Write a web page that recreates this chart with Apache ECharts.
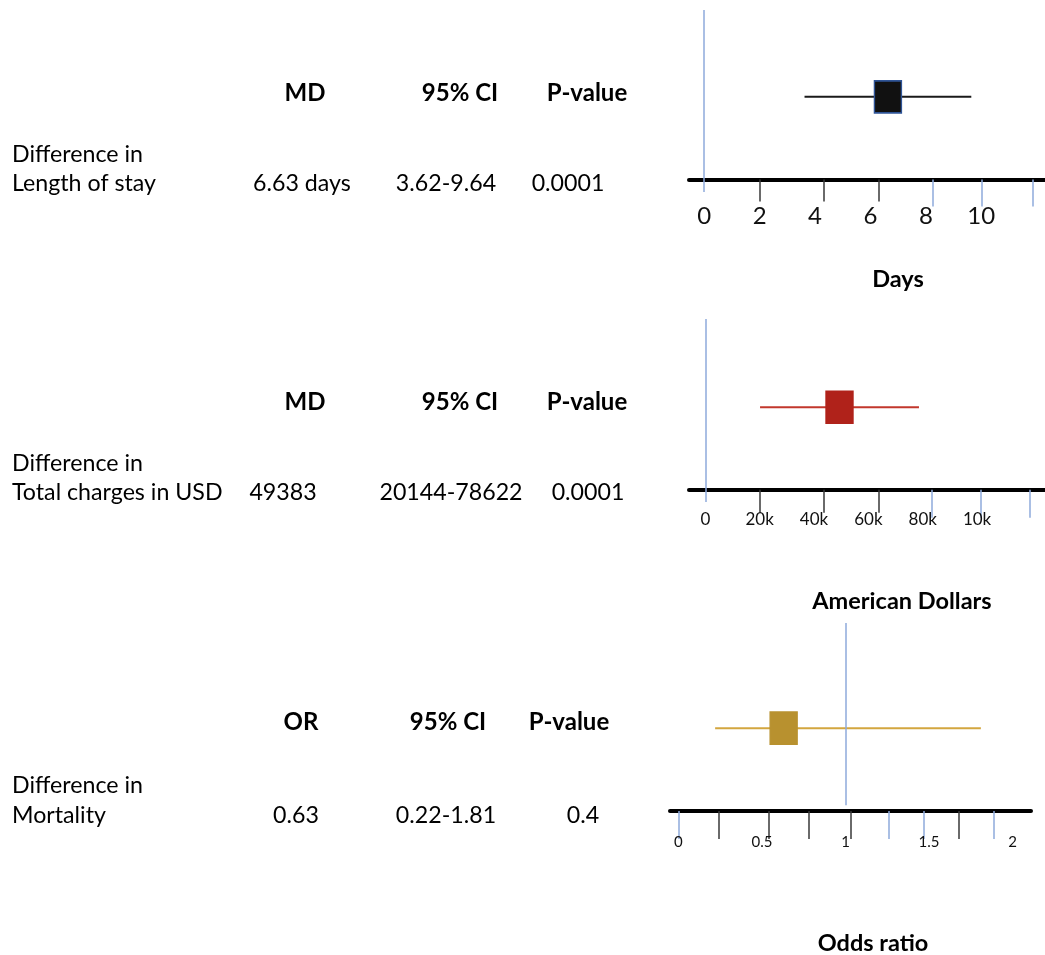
<!DOCTYPE html>
<html>
<head>
<meta charset="utf-8">
<script src="https://cdn.jsdelivr.net/npm/echarts@6/dist/echarts.min.js"></script>
<style>
  html, body { margin: 0; padding: 0; background: #fff; }
  #chart { width: 1045px; height: 955px; }
</style>
</head>
<body>
<div id="chart"></div>
<script>
// table content
const outcomeLine1 = ['Difference in', 'Difference in', 'Difference in']
const outcomeLine2 = ['Length of stay', 'Total charges in USD', 'Mortality']
const measureNames = ['MD', 'MD', 'OR']
const estimateText = ['6.63 days', '49383', '0.63']
const ciText = ['3.62-9.64', '20144-78622', '0.22-1.81']
const pValues = ['0.0001', '0.0001', '0.4']
const axisTitles = ['Days', 'American Dollars', 'Odds ratio']

// plotted values
const estimates = [6.63, 49383, 0.63]
const ciLow = [3.62, 20144, 0.22]
const ciHigh = [9.64, 78622, 1.81]
const refValues = [0, 0, 1]

// axis labels and ticks (as drawn in the original, ticks are uneven)
const labelValues = [
  [0, 2, 4, 6, 8, 10],
  [0, 20000, 40000, 60000, 80000, 100000],
  [0, 0.5, 1, 1.5, 2]
]
const labelTexts = [
  ['0', '2', '4', '6', '8', '10'],
  ['0', '20k', '40k', '60k', '80k', '10k'],
  ['0', '0.5', '1', '1.5', '2']
]
const blackTicks = [
  [2, 4.3, 6.3],
  [20000, 43500, 64000],
  [0.24, 0.54, 0.78, 1.03, 1.68]
]
const blueTicks = [
  [8.25, 10, 11.85],
  [83500, 101500, 119500],
  [0, 1.26, 1.47, 1.89]
]

const seriesColors = ['#1a1a1a', '#c2372c', '#d3a63f']
const markerColors = ['#111111', '#b0221a', '#b8912f']
const markerBorders = ['#2f5496', '#b0221a', '#b8912f']
const refBlue = '#8eaadb'
const FONT = 'Lato, "Open Sans", sans-serif'

// layout for each panel
const panels = [
  { left: 689, width: 356, top: 10, height: 182, xMin: -0.55, xMax: 12.3, yMin: -0.15, yMax: 2.05, refBottom: -0.15,
    labelSize: 24, labelMargin: 12, blackLen: 22, blueLen: 27,
    headY: 93, rowY: 184, line1Y: 155, headX: [305, 460, 587], rowX: [302, 446, 568], titleX: 898, titleY: 279 },
  { left: 689, width: 356, top: 319, height: 183, xMin: -6000, xMax: 125000, yMin: -0.15, yMax: 2.07, refBottom: -0.15,
    labelSize: 17, labelMargin: 9, blackLen: 23, blueLen: 28,
    headY: 402, rowY: 493, line1Y: 464, headX: [305, 460, 587], rowX: [283, 451, 588], titleX: 902, titleY: 601 },
  { left: 670, width: 361, top: 623, height: 188, xMin: -0.05, xMax: 2.11, yMin: 0, yMax: 2.27, refBottom: 0.07,
    labelSize: 15, labelMargin: 24, blackLen: 28, blueLen: 28,
    headY: 722, rowY: 816, line1Y: 786, headX: [301, 448, 569], rowX: [296, 446, 583], titleX: 873, titleY: 943 }
]

const grid = []
const xAxis = []
const yAxis = []
const series = []
const graphic = []

function txt(x, y, text, size, bold, align) {
  graphic.push({
    type: 'text', x: x, y: y, silent: true,
    style: {
      text: text, fill: '#000',
      font: (bold ? 'bold ' : '') + size + 'px ' + FONT,
      align: align || 'center', verticalAlign: 'middle'
    }
  })
}

panels.forEach((p, i) => {
  grid.push({ left: p.left, width: p.width, top: p.top, height: p.height, containLabel: false })
  yAxis.push({ type: 'value', gridIndex: i, min: p.yMin, max: p.yMax, show: false })

  // main axis: thick line, black ticks, labels
  xAxis.push({
    type: 'value', gridIndex: i, min: p.xMin, max: p.xMax, position: 'bottom',
    axisLine: { show: true, onZero: true, onZeroAxisIndex: i, lineStyle: { color: '#000', width: 4 } },
    axisTick: { show: true, customValues: blackTicks[i], length: p.blackLen, lineStyle: { color: '#3a3a3a', width: 1.5 } },
    axisLabel: {
      customValues: labelValues[i], margin: p.labelMargin, color: '#111', fontSize: p.labelSize, fontFamily: FONT,
      formatter: v => {
        const k = labelValues[i].indexOf(v)
        return k >= 0 ? labelTexts[i][k] : ''
      }
    },
    splitLine: { show: false }
  })
  // second axis on same grid only for the blue ticks
  xAxis.push({
    type: 'value', gridIndex: i, min: p.xMin, max: p.xMax, position: 'bottom',
    axisLine: { show: false, onZero: true, onZeroAxisIndex: i },
    axisTick: { show: true, customValues: blueTicks[i], length: p.blueLen, lineStyle: { color: refBlue, width: 1.5 } },
    axisLabel: { show: false },
    splitLine: { show: false }
  })

  series.push({
    type: 'line', xAxisIndex: i * 2, yAxisIndex: i, silent: true,
    symbol: 'none',
    data: [[ciLow[i], 1], [ciHigh[i], 1]],
    lineStyle: { color: seriesColors[i], width: 2 },
    markLine: {
      silent: true, symbol: ['none', 'none'], label: { show: false },
      lineStyle: { color: refBlue, width: 1.5, type: 'solid' },
      data: [[{ coord: [refValues[i], p.yMax] }, { coord: [refValues[i], p.refBottom] }]]
    },
    z: 2
  })
  series.push({
    type: 'scatter', xAxisIndex: i * 2, yAxisIndex: i, silent: true,
    symbol: 'rect', symbolSize: [27, 32],
    data: [[estimates[i], 1]],
    itemStyle: { color: markerColors[i], borderColor: markerBorders[i], borderWidth: 1.5, opacity: 1 },
    z: 3
  })

  // table text
  txt(p.headX[0], p.headY, measureNames[i], 24, true)
  txt(p.headX[1], p.headY, '95% CI', 24, true)
  txt(p.headX[2], p.headY, 'P-value', 24, true)
  txt(12, p.line1Y, outcomeLine1[i], 23.2, false, 'left')
  txt(12, p.rowY, outcomeLine2[i], 23.2, false, 'left')
  txt(p.rowX[0], p.rowY, estimateText[i], 23.2, false)
  txt(p.rowX[1], p.rowY, ciText[i], 23.2, false)
  txt(p.rowX[2], p.rowY, pValues[i], 23.2, false)
  txt(p.titleX, p.titleY, axisTitles[i], 23.5, true)
})

const chart = echarts.init(document.getElementById('chart'))
chart.setOption({
  backgroundColor: '#fff',
  animation: false,
  grid: grid,
  xAxis: xAxis,
  yAxis: yAxis,
  series: series,
  graphic: graphic
})
</script>
</body>
</html>
